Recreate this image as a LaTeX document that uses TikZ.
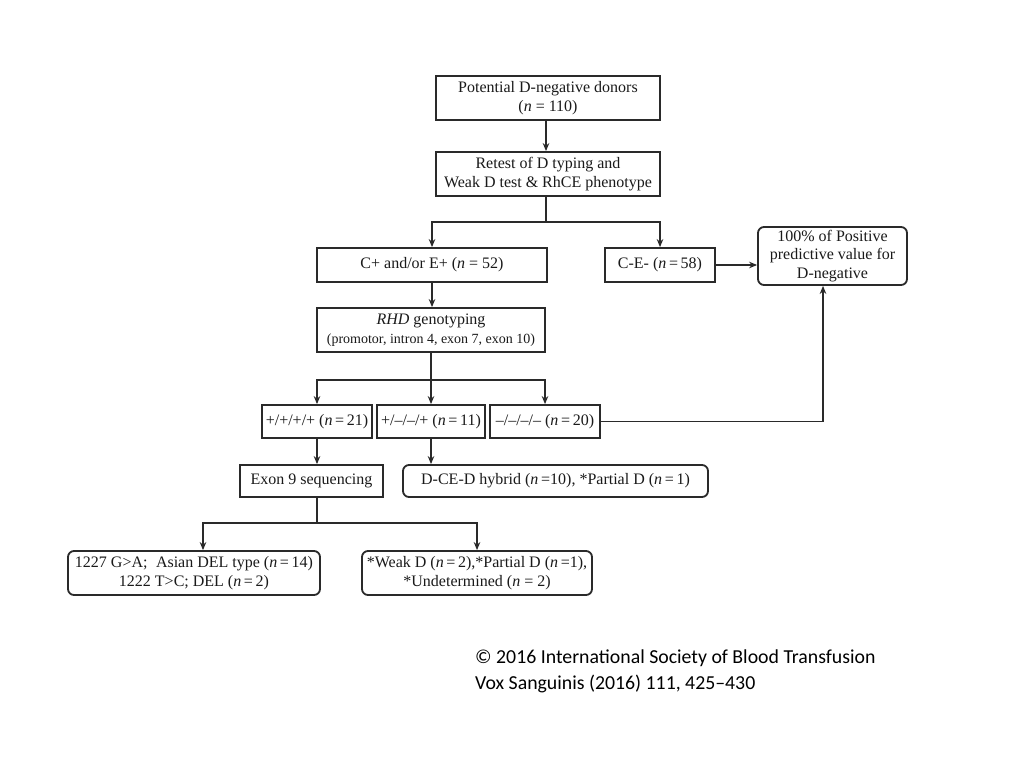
\documentclass[tikz,border=0pt]{standalone}
\usepackage{fontspec}
\setmainfont{Liberation Serif}
\newfontfamily\capfont{Carlito}
\usetikzlibrary{arrows.meta}
\definecolor{ink}{HTML}{1A1A1A}
\definecolor{edge}{HTML}{2A2A2A}
\tikzset{
  box/.style={draw=edge, line width=1.8pt, fill=white, inner sep=0pt, align=center,
              text=ink, font=\fontsize{16}{18.5}\selectfont},
  rbox/.style={box, rounded corners=6pt},
  arr/.style={draw=edge, line width=1.5pt, -{Stealth[length=8pt,width=6.5pt]}},
  ln/.style={draw=edge, line width=1.5pt}
}
\newcommand{\nn}{\textit{n}}
\begin{document}
\begin{tikzpicture}[x=1pt,y=-1pt]
\useasboundingbox (0,0) rectangle (1024,768);
\fill[white] (0,0) rectangle (1024,768);

% nodes
\node[box, minimum width=224pt, minimum height=44pt] (b1) at (548,98)
  {Potential D-negative donors\\(\nn{} = 110)};
\node[box, minimum width=224pt, minimum height=44pt] (b2) at (548,174)
  {Retest of D typing and\\Weak D test \& RhCE phenotype};
\node[box, minimum width=230pt, minimum height=34pt] (b3) at (432,265)
  {C+ and/or E+ (\nn{} = 52)};
\node[box, minimum width=110pt, minimum height=34pt] (b4) at (660,265)
  {C-E- (\nn\,=\,58)};
\node[rbox, minimum width=149pt, minimum height=58pt] (b5) at (832.5,256)
  {100\% of Positive\\predictive value for\\D-negative};
\node[box, minimum width=228pt, minimum height=44pt] (b6) at (431,330)
  {\textit{RHD} genotyping\\{\fontsize{14}{17}\selectfont (promotor, intron 4, exon 7, exon 10)}};
\node[box, minimum width=110pt, minimum height=33pt] (b7) at (317,421.5)
  {+/+/+/+ (\nn\,=\,21)};
\node[box, minimum width=108pt, minimum height=33pt] (b8) at (431,421.5)
  {+/–/–/+ (\nn\,=\,11)};
\node[box, minimum width=110pt, minimum height=33pt] (b9) at (545,421.5)
  {–/–/–/– (\nn\,=\,20)};
\node[box, minimum width=143pt, minimum height=32pt] (b10) at (311.5,481)
  {Exon 9 sequencing};
\node[rbox, minimum width=305pt, minimum height=32pt] (b11) at (555.5,481)
  {D-CE-D hybrid (\nn\,=10), *Partial D (\nn\,=\,1)};
\node[rbox, minimum width=252pt, minimum height=44pt] (b12) at (194,573)
  {1227 G>A;\; Asian DEL type (\nn\,=\,14)\\1222 T>C; DEL (\nn\,=\,2)};
\node[rbox, minimum width=230pt, minimum height=44pt] (b13) at (477,573)
  {*Weak D (\nn\,=\,2),*Partial D (\nn\,=1),\\*Undetermined (\nn{} = 2)};

% junctions
\coordinate (j1) at (546,222);
\coordinate (j2) at (431,380);
\coordinate (j3) at (317,523);

% connectors
\draw[arr] (b1.south -| j1) -- (b2.north -| j1);
\draw[ln] (b2.south -| j1) -- (j1);
\draw[arr] (j1) -| (b3.north);
\draw[arr] (j1) -| (b4.north);
\draw[arr] (b4.east) -- (b4.east -| b5.west);
\draw[arr] (b3.south) -- (b3.south |- b6.north);
\draw[ln] (b6.south) -- (j2);
\draw[arr] (j2) -- (b8.north);
\draw[arr] (j2) -| (b7.north);
\draw[arr] (j2) -| (b9.north);
\draw[arr] (b9.east) -| ([xshift=-9.5pt]b5.south);
\draw[arr] (b7.south) -- (b7.south |- b10.north);
\draw[arr] (b8.south) -- (b8.south |- b11.north);
\draw[ln] (b10.south -| j3) -- (j3);
\draw[arr] (j3) -| ([xshift=9pt]b12.north);
\draw[arr] (j3) -| (b13.north);

% caption
\node[anchor=north west, inner sep=0pt, align=left, text=black,
      font=\capfont\fontsize{19.8}{26}\selectfont] (cap) at (475,650)
  {© 2016 International Society of Blood Transfusion\\Vox Sanguinis (2016) 111, 425–430};
\end{tikzpicture}
\end{document}
